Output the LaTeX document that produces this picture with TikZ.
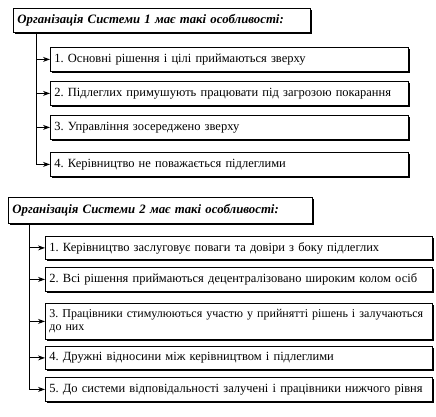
\documentclass[tikz,border=0pt]{standalone}
\usepackage{fontspec}
\setmainfont{Liberation Serif}
\usetikzlibrary{arrows.meta,shadows}
\frenchspacing
\begin{document}
\begin{tikzpicture}[x=1pt,y=1pt,
  box/.style={draw=black, line width=0.8pt, fill=white, anchor=north west,
    inner xsep=4pt, inner ysep=1pt, align=left, font=\fontsize{12.5}{13}\selectfont,
    drop shadow={shadow xshift=1.2pt, shadow yshift=-1.2pt, fill=black, opacity=1}},
  head/.style={box, font=\fontsize{12.8}{14}\selectfont\bfseries\itshape},
  conn/.style={line width=1pt, -{Stealth[length=7pt,width=5pt]}}]
\useasboundingbox (0,0) rectangle (436,-417);
% Section 1
\node[head, text width=289pt, minimum height=24pt] (h1) at (13,-8) {\mbox{Організація Системи 1 має такі особливості:}};
\node[box, text width=350pt, minimum height=24pt] (a1) at (50,-47) {\mbox{1. Основні рішення і цілі приймаються зверху}};
\node[box, text width=350pt, minimum height=24pt] (a2) at (50,-81) {\mbox{2. Підлеглих примушують працювати під загрозою покарання}};
\node[box, text width=350pt, minimum height=24pt] (a3) at (50,-115) {\mbox{3. Управління зосереджено зверху}};
\node[box, text width=350pt, minimum height=24pt] (a4) at (50,-152) {\mbox{4. Керівництво не поважається підлеглими}};
\coordinate (v1) at (36,-32);
\draw[line width=1pt] (v1) -- (v1 |- a4.west);
\draw[conn] (v1 |- a1.west) -- (a1.west);
\draw[conn] (v1 |- a2.west) -- (a2.west);
\draw[conn] (v1 |- a3.west) -- (a3.west);
\draw[conn] (v1 |- a4.west) -- (a4.west);
% Section 2
\node[head, text width=296pt, minimum height=26pt] (h2) at (8,-197) {\mbox{Організація Системи 2 має такі особливості:}};
\node[box, text width=379pt, minimum height=23pt] (b1) at (45,-236) {\mbox{1. Керівництво заслуговує поваги та довіри з боку підлеглих}};
\node[box, text width=379pt, minimum height=24pt] (b2) at (45,-267) {\mbox{2. Всі рішення приймаються децентралізовано широким колом осіб}};
\node[box, text width=379pt, minimum height=36pt, font=\fontsize{12}{13}\selectfont] (b3) at (45,-303) {\mbox{3. Працівники стимулюються участю у прийнятті рішень і залучаються}\\до них};
\node[box, text width=379pt, minimum height=23pt] (b4) at (45,-346) {\mbox{4. Дружні відносини між керівництвом і підлеглими}};
\node[box, text width=379pt, minimum height=24pt] (b5) at (45,-377) {\mbox{5. До системи відповідальності залучені і працівники нижчого рівня}};
\coordinate (v2) at (29,-223);
\draw[line width=1pt] (v2) -- (v2 |- b5.west);
\draw[conn] (v2 |- b1.west) -- (b1.west);
\draw[conn] (v2 |- b2.west) -- (b2.west);
\draw[conn] (v2 |- b3.west) -- (b3.west);
\draw[conn] (v2 |- b4.west) -- (b4.west);
\draw[conn] (v2 |- b5.west) -- (b5.west);
\end{tikzpicture}
\end{document}
